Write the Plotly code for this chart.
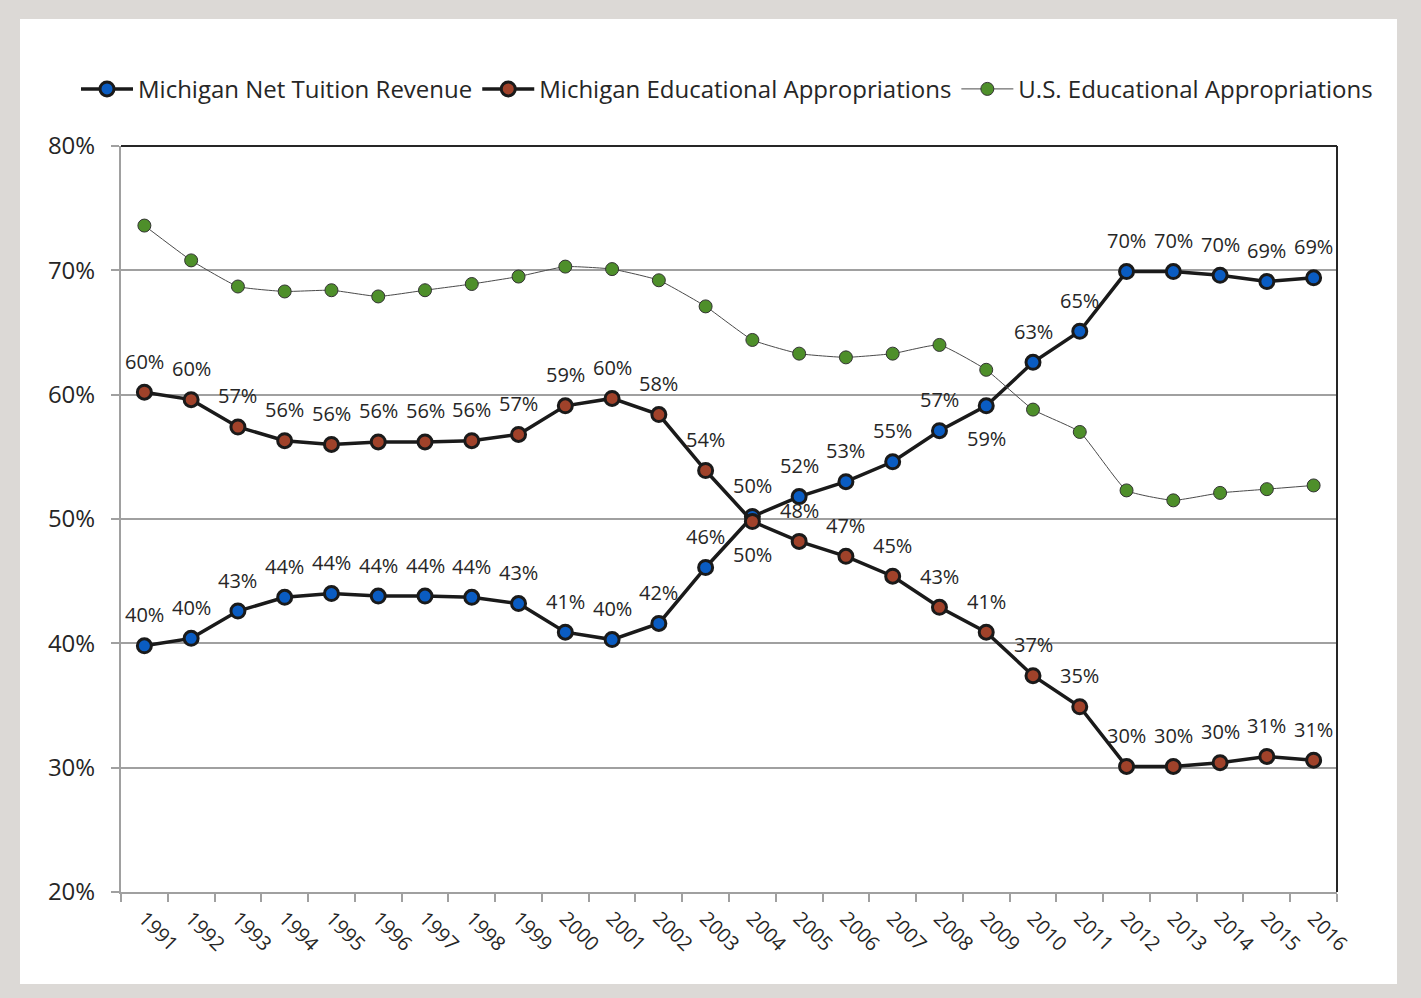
import plotly.graph_objects as go

years = [str(y) for y in range(1991, 2017)]
mi_tuition = [39.8, 40.4, 42.6, 43.7, 44.0, 43.8, 43.8, 43.7, 43.2, 40.9, 40.3, 41.6, 46.1,
              50.2, 51.8, 53.0, 54.6, 57.1, 59.1, 62.6, 65.1, 69.9, 69.9, 69.6, 69.1, 69.4]
mi_approp = [60.2, 59.6, 57.4, 56.3, 56.0, 56.2, 56.2, 56.3, 56.8, 59.1, 59.7, 58.4, 53.9,
             49.8, 48.2, 47.0, 45.4, 42.9, 40.9, 37.4, 34.9, 30.1, 30.1, 30.4, 30.9, 30.6]
us_approp = [73.6, 70.8, 68.7, 68.3, 68.4, 67.9, 68.4, 68.9, 69.5, 70.3, 70.1, 69.2, 67.1,
             64.4, 63.3, 63.0, 63.3, 64.0, 62.0, 58.8, 57.0, 52.3, 51.5, 52.1, 52.4, 52.7]
# label placement: +1 above, -1 below
tuition_label_side = [1] * 26
tuition_label_side[years.index("2009")] = -1
approp_label_side = [1] * 26
approp_label_side[years.index("2004")] = -1

names = ["Michigan Net Tuition Revenue", "Michigan Educational Appropriations",
         "U.S. Educational Appropriations"]

fig = go.Figure()
fig.add_trace(go.Scatter(
    x=years, y=mi_tuition, name=names[0], mode="lines+markers",
    line=dict(color="#1a1a1a", width=3.5),
    marker=dict(size=14, color="#0a5cc2", line=dict(color="#1a1a1a", width=3)),
))
fig.add_trace(go.Scatter(
    x=years, y=mi_approp, name=names[1], mode="lines+markers",
    line=dict(color="#1a1a1a", width=3.5),
    marker=dict(size=14, color="#a0422a", line=dict(color="#1a1a1a", width=3)),
))
fig.add_trace(go.Scatter(
    x=years, y=us_approp, name=names[2], mode="lines+markers",
    line=dict(color="#4a4a4a", width=1, shape="spline", smoothing=0.4),
    marker=dict(size=13, color="#4e8f2a", line=dict(color="#333333", width=1)),
))

annotations = []
for vals, sides in ((mi_tuition, tuition_label_side), (mi_approp, approp_label_side)):
    for i, (v, s) in enumerate(zip(vals, sides)):
        annotations.append(dict(
            x=i, y=v, text=f"{v:.0f}%", showarrow=False, xref="x", yref="y",
            yshift=31 * s if s > 0 else -33,
            font=dict(family="Open Sans", size=20, color="#262626"),
        ))

shapes = [
    # white inner panel on gray frame
    dict(type="rect", xref="paper", yref="paper", x0=(20 - 121) / 1216, x1=(1397 - 121) / 1216,
         y0=(892 - 984) / 746, y1=(892 - 19) / 746, fillcolor="white", line=dict(width=0),
         layer="below"),
    # top and right borders of plot area
    dict(type="line", xref="paper", yref="paper", x0=0, x1=1, y0=1, y1=1,
         line=dict(color="#262626", width=2)),
    dict(type="line", xref="paper", yref="paper", x0=1, x1=1, y0=0, y1=1,
         line=dict(color="#262626", width=2)),
]

fig.update_layout(
    width=1421, height=998,
    margin=dict(l=121, r=84, t=146, b=106),
    paper_bgcolor="#dcd9d6",
    plot_bgcolor="white",
    font=dict(family="Open Sans", color="#262626"),
    showlegend=True,
    legend=dict(orientation="h", x=(76 - 121) / 1216, xanchor="left", y=1.076, yanchor="middle",
                font=dict(family="Open Sans", size=24, color="#262626"),
                bgcolor="rgba(0,0,0,0)", itemwidth=52, traceorder="normal"),
    annotations=annotations,
    shapes=shapes,
    xaxis=dict(
        type="category", range=[-0.5, 25.5], tickson="boundaries",
        ticks="outside", ticklen=8, tickcolor="#a0a0a0", tickwidth=1.5,
        showline=True, linecolor="#a0a0a0", linewidth=2,
        showgrid=False, tickangle=45, ticklabelstandoff=5,
        tickfont=dict(family="Open Sans", size=20, color="#262626"),
    ),
    yaxis=dict(
        range=[20, 80], dtick=10, ticksuffix="%",
        ticks="outside", ticklen=8, tickcolor="#a0a0a0", tickwidth=1.5,
        showline=True, linecolor="#a0a0a0", linewidth=2,
        showgrid=True, gridcolor="#a0a0a0", gridwidth=1.5,
        zeroline=False, ticklabelstandoff=11,
        tickfont=dict(family="Open Sans", size=24, color="#262626"),
    ),
)

fig.write_html("out.html", config={"displayModeBar": False},
               post_script="document.body.style.margin='0';")
